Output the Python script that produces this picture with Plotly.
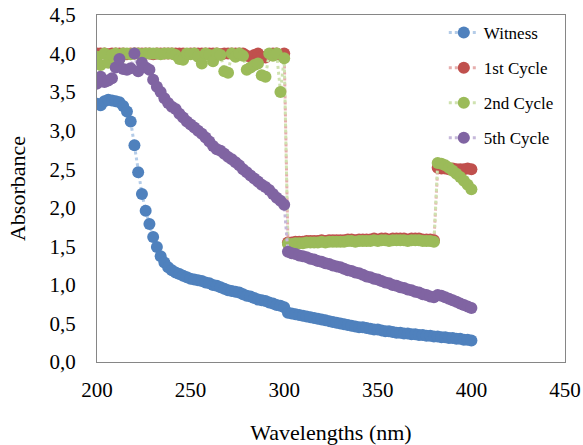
import plotly.graph_objects as go

wavelengths = list(range(200, 401, 2))

witness = [
    3.35, 3.33, 3.38, 3.40, 3.39, 3.38, 3.37, 3.32, 3.25, 3.12,
    2.81, 2.46, 2.18, 1.96, 1.79, 1.62, 1.49, 1.37, 1.29, 1.23,
    1.19, 1.16, 1.14, 1.12, 1.10, 1.08, 1.07, 1.06, 1.05, 1.03,
    1.02, 1.00, 0.99, 0.97, 0.95, 0.93, 0.92, 0.91, 0.90, 0.88,
    0.86, 0.85, 0.83, 0.81, 0.80, 0.79, 0.77, 0.76, 0.74, 0.73,
    0.71, 0.64, 0.63, 0.62, 0.61, 0.60, 0.59, 0.58, 0.57, 0.56,
    0.55, 0.54, 0.53, 0.52, 0.51, 0.50, 0.49, 0.48, 0.47, 0.46,
    0.45, 0.45, 0.44, 0.43, 0.42, 0.42, 0.41, 0.40, 0.40, 0.39,
    0.38, 0.38, 0.37, 0.37, 0.36, 0.36, 0.35, 0.35, 0.34, 0.34,
    0.33, 0.33, 0.32, 0.32, 0.31, 0.31, 0.30, 0.30, 0.29, 0.29,
    0.28,
]

cycle1 = [
    4.00, 4.00, 4.00, 3.99, 4.00, 4.00, 4.00, 4.00, 3.99, 4.00,
    4.00, 4.00, 4.00, 4.00, 4.00, 3.99, 4.00, 4.00, 4.00, 4.00,
    4.00, 4.00, 4.00, 4.00, 3.99, 4.00, 4.00, 4.00, 4.00, 4.00,
    4.00, 4.00, 4.00, 3.99, 4.00, 4.00, 4.00, 4.00, 4.00, 4.00,
    3.97, 3.96, 3.98, 4.00, 3.96, 3.95, 3.98, 4.00, 4.00, 3.98,
    4.00, 1.55, 1.55, 1.56, 1.56, 1.56, 1.57, 1.57, 1.57, 1.57,
    1.58, 1.57, 1.58, 1.58, 1.58, 1.58, 1.58, 1.59, 1.59, 1.58,
    1.59, 1.59, 1.59, 1.59, 1.60, 1.59, 1.60, 1.60, 1.59, 1.60,
    1.60, 1.60, 1.60, 1.59, 1.60, 1.60, 1.60, 1.59, 1.59, 1.59,
    1.58, 2.52, 2.51, 2.51, 2.50, 2.51, 2.50, 2.50, 2.50, 2.51,
    2.50,
]

cycle2 = [
    3.96, 3.85, 4.00, 3.88, 3.98, 4.00, 3.93, 4.00, 4.00, 3.99,
    4.00, 4.00, 3.99, 4.00, 4.00, 4.00, 4.00, 3.99, 4.00, 4.00,
    4.00, 3.98, 3.93, 3.92, 4.00, 3.99, 4.00, 3.96, 3.87, 4.00,
    3.98, 3.90, 4.00, 3.98, 3.77, 3.75, 4.00, 3.96, 4.00, 3.97,
    3.79, 3.82, 3.85, 3.87, 3.72, 3.70, 4.00, 3.97, 4.00, 3.50,
    3.94, 1.53, 1.53, 1.54, 1.54, 1.54, 1.55, 1.55, 1.55, 1.55,
    1.56, 1.55, 1.56, 1.56, 1.56, 1.56, 1.56, 1.57, 1.57, 1.56,
    1.57, 1.57, 1.57, 1.57, 1.58, 1.57, 1.58, 1.58, 1.57, 1.58,
    1.58, 1.58, 1.58, 1.57, 1.58, 1.58, 1.58, 1.57, 1.57, 1.57,
    1.56, 2.58, 2.57, 2.55, 2.52, 2.48, 2.44, 2.40, 2.35, 2.30,
    2.24,
]

cycle5 = [
    3.61, 3.70, 3.63, 3.65, 3.68, 3.82, 3.93, 3.80, 3.79, 3.81,
    4.00, 3.77, 3.88, 3.82, 3.79, 3.66, 3.57, 3.50, 3.42, 3.36,
    3.31, 3.28, 3.22, 3.17, 3.12, 3.08, 3.04, 3.00, 2.96, 2.91,
    2.86, 2.80, 2.76, 2.74, 2.70, 2.66, 2.63, 2.59, 2.55, 2.50,
    2.46, 2.42, 2.38, 2.34, 2.30, 2.27, 2.23, 2.18, 2.13, 2.09,
    2.04, 1.43, 1.41, 1.40, 1.38, 1.37, 1.36, 1.34, 1.33, 1.31,
    1.30, 1.28, 1.27, 1.25, 1.24, 1.23, 1.21, 1.19, 1.18, 1.16,
    1.15, 1.13, 1.11, 1.10, 1.08, 1.07, 1.05, 1.03, 1.02, 1.00,
    0.99, 0.97, 0.96, 0.94, 0.93, 0.91, 0.90, 0.88, 0.87, 0.85,
    0.84, 0.87, 0.86, 0.84, 0.82, 0.80, 0.78, 0.76, 0.74, 0.72,
    0.70,
]

series_names = ["Witness", "1st Cycle", "2nd Cycle", "5th Cycle"]
series_values = [witness, cycle1, cycle2, cycle5]
marker_colors = ["#4F81BD", "#C0504D", "#9BBB59", "#8064A2"]
line_colors = ["#B4CCE8", "#E6AEAD", "#CFE2B0", "#C5B8DA"]

font_family = "Liberation Serif"

fig = go.Figure()
for i, (name, vals) in enumerate(zip(series_names, series_values)):
    fig.add_trace(go.Scatter(
        x=wavelengths, y=vals, name=name, mode="lines+markers",
        legendgroup=name,
        line=dict(color=line_colors[i], width=3, dash="dot"),
        marker=dict(color=marker_colors[i], size=12, line=dict(width=0)),
    ))

fig.update_layout(
    width=583, height=445,
    margin=dict(l=97, r=18, t=15, b=83, autoexpand=False),
    paper_bgcolor="white", plot_bgcolor="white",
    separators=", ",
    font=dict(family=font_family, color="black", size=21),
    showlegend=True,
    legend=dict(
        x=0.741, y=1.0, xanchor="left", yanchor="top",
        bgcolor="rgba(0,0,0,0)", borderwidth=0,
        font=dict(family=font_family, size=17, color="black"),
        tracegroupgap=10,
    ),
)

fig.update_xaxes(
    range=[200, 450], dtick=50, tick0=200, automargin=False,
    showgrid=False, zeroline=False, ticks="",
    showline=True, linecolor="#868686", linewidth=1, mirror=True,
    ticklabelstandoff=9,
    tickfont=dict(family=font_family, size=21, color="black"),
    title=dict(text="Wavelengths (nm)", standoff=23,
               font=dict(family=font_family, size=22, color="black")),
)
fig.update_yaxes(
    range=[0, 4.5], dtick=0.5, tick0=0, tickformat=".1f", automargin=False,
    showgrid=False, zeroline=False, ticks="",
    showline=True, linecolor="#868686", linewidth=1, mirror=True,
    ticklabelstandoff=16,
    tickfont=dict(family=font_family, size=21, color="black"),
    title=dict(text="Absorbance", standoff=17,
               font=dict(family=font_family, size=22, color="black")),
)

fig.write_html("out.html", config={"displayModeBar": False},
               post_script="document.body.style.margin='0';")
